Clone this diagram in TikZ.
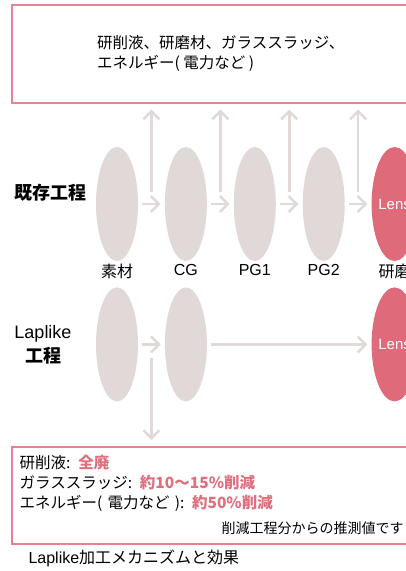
\documentclass[tikz,border=0pt]{standalone}
\usepackage{fontspec}
\setmainfont{Noto Sans CJK JP}
\newfontfamily\latinfont{Liberation Sans}
\usepackage{tikz}
\usetikzlibrary{arrows.meta}
\usetikzlibrary{positioning}
\usetikzlibrary{shapes}
\usetikzlibrary{calc}
\definecolor{lensgrey}{RGB}{224,217,215}
\definecolor{lensred}{RGB}{223,106,121}
\definecolor{boxred}{RGB}{232,130,142}
\definecolor{textred}{RGB}{224,110,124}
\newcommand{\redbf}[1]{\textcolor{textred}{\bfseries #1}}
\tikzstyle{stage}=[ellipse,fill=lensgrey,minimum width=42pt,minimum height=114pt,inner sep=0pt]
\tikzstyle{lens}=[stage,fill=lensred,text=white,font=\latinfont\fontsize{15}{15}\selectfont]
\tikzstyle{flow}=[draw=lensgrey,line width=2.5pt,-{Straight Barb[length=8pt,width=16pt]},shorten <=4pt,shorten >=4pt]
\tikzstyle{box}=[draw=boxred,line width=1.5pt,anchor=north west]

\begin{document}
\begin{tikzpicture}[x=1pt,y=-1pt,font=\fontsize{15.5}{20}\selectfont]
\tikzstyle{lab}=[font=\fontsize{16}{16}\selectfont,inner sep=2pt]
\useasboundingbox (0,0) rectangle (406,571);
\clip (0,0) rectangle (406,571);
\node [box,minimum width=400pt,minimum height=98pt] (top) at (11,4) {};
\node [anchor=west,align=left,inner sep=0pt] (waste) at (97,53) {研削液、研磨材、ガラススラッジ、\\エネルギー( 電力など )};
\node [stage] (raw) at (117,204) {};
\node [stage,right=26.5pt of raw] (cg) {};
\node [stage,right=26.5pt of cg] (pg1) {};
\node [stage,right=26.5pt of pg1] (pg2) {};
\node [lens,right=26.5pt of pg2] (pol) {Lens};
\node [lab,below=1pt of raw] (t1) {素材};
\node [lab,below=1pt of cg] (t2) {\latinfont CG};
\node [lab,below=1pt of pg1] (t3) {\latinfont PG1};
\node [lab,below=1pt of pg2] (t4) {\latinfont PG2};
\node [lab,below=1pt of pol] (t5) {研磨};
\foreach \a/\b [count=\i] in {raw/cg,cg/pg1,pg1/pg2,pg2/pol} {
  \draw [flow] (\a) -- (\b);
  \coordinate (u\i) at ($(\a.east)!0.5!(\b.west)+(0,-12)$);
  \draw [flow,shorten <=0pt,shorten >=6pt] (u\i) -- (u\i |- top.south);
}
\node [font=\fontsize{18}{18}\selectfont\bfseries] (old) at (50,193) {既存工程};
\node [stage,below=26pt of raw] (lraw) {};
\node [stage,below=26pt of cg] (lcg) {};
\node [lens,below=26pt of pol] (lpol) {Lens};
\draw [flow] (lraw) -- (lcg);
\draw [flow] (lcg) -- (lpol);
\node [align=center,font=\fontsize{18}{24}\selectfont] (new) at (43,345) {{\latinfont Laplike}\\\textbf{工程}};
\node [box,text width=384pt,inner xsep=8pt,minimum height=97pt,align=left] (bot) at (11,446) {研削液: \redbf{全廃}\\ガラススラッジ: \redbf{約10～15\%削減}\\エネルギー( 電力など ): \redbf{約50\%削減}\\[5pt]\hfill{\fontsize{14}{14}\selectfont 削減工程分からの推測値です}};
\coordinate (d1) at ($(lraw.east)!0.5!(lcg.west)+(0,14)$);
\draw [flow,shorten <=0pt,shorten >=6pt] (d1) -- (d1 |- bot.north);
\node [anchor=west,font=\fontsize{16}{16}\selectfont] (cap) at (25,558) {{\latinfont Laplike}加工メカニズムと効果};
\end{tikzpicture}
\end{document}
